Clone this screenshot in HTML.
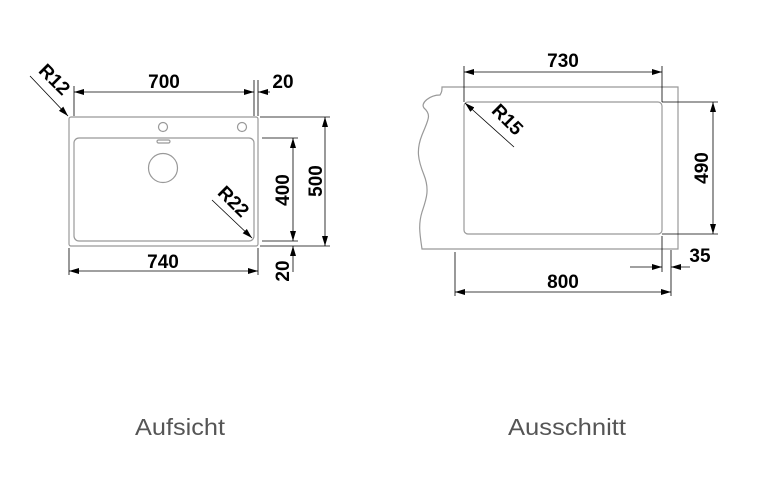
<!DOCTYPE html>
<html><head><style>body{margin:0;background:#fff}svg{display:block}</style></head><body>
<svg width="774" height="482" viewBox="0 0 774 482" xmlns="http://www.w3.org/2000/svg" font-family="Liberation Sans, sans-serif">
<defs>
<marker id="a" viewBox="0 0 10 6" refX="10" refY="3" markerWidth="10" markerHeight="6" markerUnits="userSpaceOnUse" orient="auto"><path d="M0,0L10,3L0,6z" fill="#000"/></marker>
</defs>
<rect width="774" height="482" fill="#fff"/>
<g fill="none" stroke="#999" stroke-width="1.2">
<rect x="69" y="117" width="189" height="129" rx="2"/>
<rect x="74" y="138" width="180" height="103" rx="5"/>
<circle cx="163" cy="127" r="4.5"/>
<circle cx="242" cy="127" r="4.5"/>
<rect x="157" y="140" width="13" height="3" rx="1.5"/>
<circle cx="163" cy="168" r="14.5"/>
<path d="M442,87 L678,87 L678,249 L422,249 C420,235 418,225 422,212 C426,200 430,190 424,175 C418,160 416,150 422,135 C428,120 432,115 424,108 C420,103 430,95 440,95 C442,92 442,90 442,87 Z"/>
<rect x="464" y="102" width="198" height="132" rx="4"/>
</g>
<g stroke="#000" stroke-width="0.8" fill="none">
<line x1="74" y1="86" x2="74" y2="116"/>
<line x1="254" y1="80" x2="254" y2="116"/>
<line x1="258" y1="80" x2="258" y2="116"/>
<line x1="80" y1="92" x2="74" y2="92" marker-end="url(#a)"/>
<line x1="80" y1="92" x2="248" y2="92"/>
<line x1="248" y1="92" x2="254" y2="92" marker-end="url(#a)"/>
<line x1="270" y1="92" x2="258" y2="92" marker-end="url(#a)"/>
<line x1="30" y1="76" x2="68" y2="116" marker-end="url(#a)"/>
<line x1="212" y1="200" x2="252" y2="238" marker-end="url(#a)"/>
<line x1="260" y1="117" x2="330" y2="117"/>
<line x1="260" y1="246" x2="330" y2="246"/>
<line x1="262" y1="138" x2="298" y2="138"/>
<line x1="262" y1="241" x2="298" y2="241"/>
<line x1="325" y1="140" x2="325" y2="117" marker-end="url(#a)"/>
<line x1="325" y1="140" x2="325" y2="224"/>
<line x1="325" y1="224" x2="325" y2="246" marker-end="url(#a)"/>
<line x1="293" y1="160" x2="293" y2="138" marker-end="url(#a)"/>
<line x1="293" y1="160" x2="293" y2="220"/>
<line x1="293" y1="220" x2="293" y2="241" marker-end="url(#a)"/>
<line x1="293" y1="272" x2="293" y2="246" marker-end="url(#a)"/>
<line x1="69" y1="248" x2="69" y2="275"/>
<line x1="258" y1="248" x2="258" y2="275"/>
<line x1="90" y1="271" x2="69" y2="271" marker-end="url(#a)"/>
<line x1="90" y1="271" x2="238" y2="271"/>
<line x1="238" y1="271" x2="258" y2="271" marker-end="url(#a)"/>
<line x1="464" y1="66" x2="464" y2="102"/>
<line x1="662" y1="66" x2="662" y2="102"/>
<line x1="485" y1="72" x2="464" y2="72" marker-end="url(#a)"/>
<line x1="485" y1="72" x2="640" y2="72"/>
<line x1="640" y1="72" x2="662" y2="72" marker-end="url(#a)"/>
<line x1="514" y1="147" x2="465" y2="103" marker-end="url(#a)"/>
<line x1="662" y1="102" x2="718" y2="102"/>
<line x1="662" y1="234" x2="718" y2="234"/>
<line x1="713" y1="125" x2="713" y2="102" marker-end="url(#a)"/>
<line x1="713" y1="125" x2="713" y2="212"/>
<line x1="713" y1="212" x2="713" y2="234" marker-end="url(#a)"/>
<line x1="455" y1="252" x2="455" y2="296"/>
<line x1="671" y1="250" x2="671" y2="296"/>
<line x1="662" y1="236" x2="662" y2="272"/>
<line x1="478" y1="292" x2="455" y2="292" marker-end="url(#a)"/>
<line x1="478" y1="292" x2="648" y2="292"/>
<line x1="648" y1="292" x2="671" y2="292" marker-end="url(#a)"/>
<line x1="630" y1="267" x2="662" y2="267" marker-end="url(#a)"/>
<line x1="690" y1="267" x2="671" y2="267" marker-end="url(#a)"/>
</g>
<g font-weight="bold" font-size="19" fill="#000" text-anchor="middle">
<text x="164" y="88">700</text>
<text x="283" y="88">20</text>
<text x="163" y="268">740</text>
<text x="563" y="67">730</text>
<text x="563" y="288">800</text>
<text x="700" y="262">35</text>
<text transform="translate(322,181) rotate(-90)">500</text>
<text transform="translate(289,190) rotate(-90)">400</text>
<text transform="translate(289,271) rotate(-90)">20</text>
<text transform="translate(708,168) rotate(-90)">490</text>
<text transform="translate(50,84) rotate(45)">R12</text>
<text transform="translate(229,206) rotate(45)">R22</text>
<text transform="translate(503,124) rotate(45)">R15</text>
</g>
<g font-size="23" fill="#555" text-anchor="middle">
<text x="180" y="435" textLength="90" lengthAdjust="spacingAndGlyphs">Aufsicht</text>
<text x="567" y="435" textLength="118" lengthAdjust="spacingAndGlyphs">Ausschnitt</text>
</g>
</svg>
</body></html>
